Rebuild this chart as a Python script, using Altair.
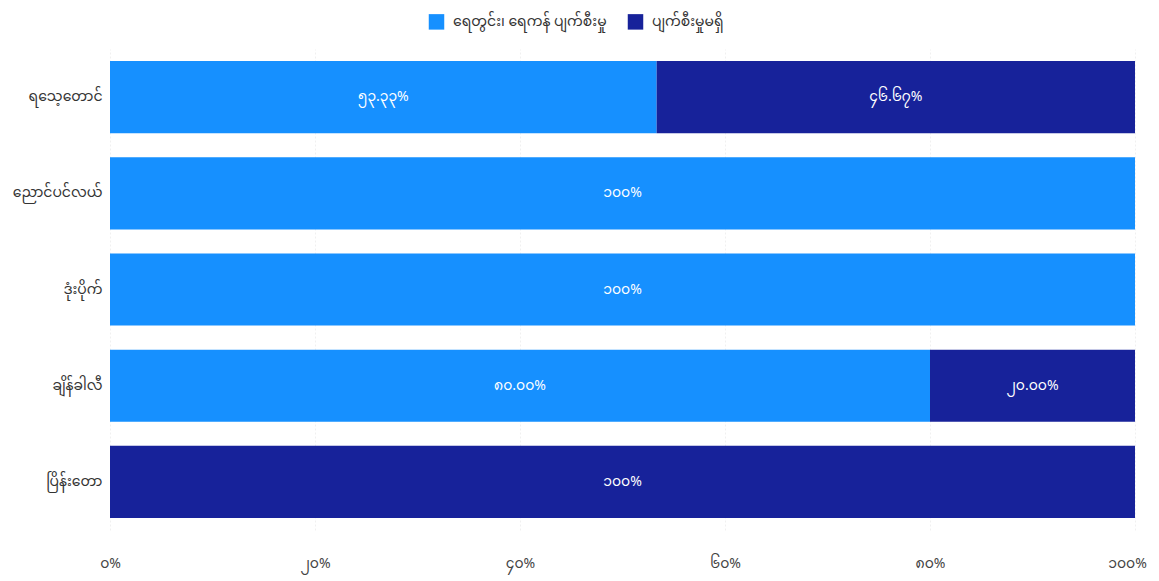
import altair as alt
import pandas as pd

categories = ["ရသေ့တောင်", "ညောင်ပင်လယ်", "ဒုံးပိုက်", "ချိန်ခါလီ", "ပြိန်းတော"]
series = ["ရေတွင်း၊ ရေကန် ပျက်စီးမှု", "ပျက်စီးမှုမရှိ"]
damaged = [53.33, 100, 100, 80.0, 0]
undamaged = [46.67, 0, 0, 20.0, 100]
damaged_labels = ["၅၃.၃၃%", "၁၀၀%", "၁၀၀%", "၈၀.၀၀%", ""]
undamaged_labels = ["၄၆.၆၇%", "", "", "၂၀.၀၀%", "၁၀၀%"]
tick_values = [0, 0.2, 0.4, 0.6, 0.8, 1.0]
tick_labels = ["၀%", "၂၀%", "၄၀%", "၆၀%", "၈၀%", "၁၀၀%"]
colors = ["#1690FF", "#17229A"]

rows = []
for i, c in enumerate(categories):
    rows.append({"cat": c, "series": series[0], "order": 0, "value": damaged[i], "label": damaged_labels[i]})
    rows.append({"cat": c, "series": series[1], "order": 1, "value": undamaged[i], "label": undamaged_labels[i]})
df = pd.DataFrame(rows)

label_expr = "{" + ",".join(f"'{v}':'{l}'" for v, l in zip(["0", "0.2", "0.4", "0.6", "0.8", "1"], tick_labels)) + "}"

font = "Noto Sans Myanmar, Padauk, Myanmar Text, Noto Sans, sans-serif"

base = alt.Chart(df).transform_filter("datum.value > 0").transform_stack(
    stack="value", groupby=["cat"], sort=[alt.SortField("order")], as_=["x0", "x1"], offset="normalize"
).transform_calculate(mid="(datum.x0 + datum.x1) / 2")

y = alt.Y("cat:N", sort=categories, title=None,
          scale=alt.Scale(paddingInner=0.25, paddingOuter=0.125),
          axis=alt.Axis(domain=False, ticks=False, labelFontSize=14, labelColor="#333",
                        labelPadding=8, labelFont=font, grid=False))

bars = base.mark_bar().encode(
    x=alt.X("x0:Q", title=None, scale=alt.Scale(domain=[0, 1], nice=False),
            axis=alt.Axis(values=tick_values, labelExpr=f"{label_expr}[toString(datum.value)]",
                          domain=False, ticks=False, labelFontSize=14, labelColor="#444",
                          labelPadding=26, labelFont=font, labelFlush=False, grid=True,
                          labelOffset={"condition": {"test": "datum.value == 1", "value": -8}, "value": 0},
                          gridColor="#f0f0f0", gridDash=[2, 2])),
    x2="x1:Q",
    y=y,
    color=alt.Color("series:N", sort=series,
                    scale=alt.Scale(domain=series, range=colors),
                    legend=alt.Legend(title=None, orient="none", direction="horizontal",
                                      legendX=318, legendY=-36, symbolType="square",
                                      symbolSize=240, symbolOpacity=1, labelFontSize=14,
                                      labelColor="#333", labelFont=font, columnPadding=20,
                                      labelOffset=8, labelLimit=400)),
)

texts = base.mark_text(color="white", fontSize=14, font=font).encode(
    x="mid:Q",
    y=alt.Y("cat:N", sort=categories),
    text="label:N",
)

chart = (bars + texts).properties(
    width=1025, height=481, autosize="none",
    padding={"left": 102, "top": 41, "right": 16, "bottom": 51},
).configure(background="white").configure_view(stroke=None)

chart.save("out.html", embed_options={"renderer": "svg", "actions": False})
